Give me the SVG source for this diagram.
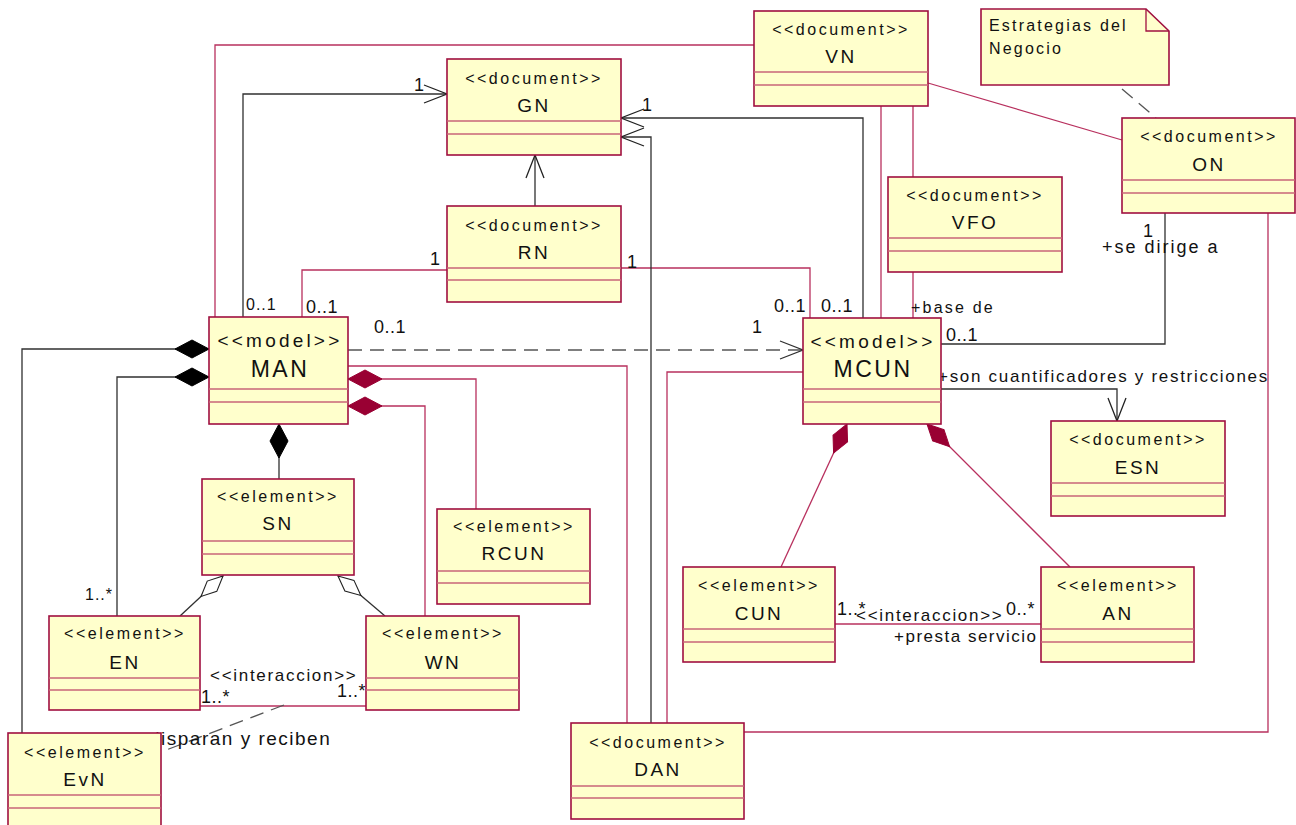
<svg xmlns="http://www.w3.org/2000/svg" width="1296" height="825" viewBox="0 0 1296 825">
<style>
.box{fill:#FFFFCC;stroke:#A01040;stroke-width:1.6}
.dv{stroke:#C86478;stroke-width:1.4}
.st{font-family:"Liberation Sans",Arial,sans-serif;font-size:16px;letter-spacing:2.5px;text-anchor:middle;fill:#111}
.nm{font-family:"Liberation Sans",Arial,sans-serif;font-size:19px;letter-spacing:2.5px;text-anchor:middle;fill:#111}
.st2{font-family:"Liberation Sans",Arial,sans-serif;font-size:19px;letter-spacing:3.2px;text-anchor:middle;fill:#111}
.nm2{font-family:"Liberation Sans",Arial,sans-serif;font-size:23px;letter-spacing:2.5px;text-anchor:middle;fill:#111}
.pk{fill:none;stroke:#B8305E;stroke-width:1.3}
.bk{fill:none;stroke:#303030;stroke-width:1.3}
.dash{fill:none;stroke:#555;stroke-width:1.3;stroke-dasharray:14 8}
.lb{font-family:"Liberation Sans",Arial,sans-serif;font-size:18px;letter-spacing:0.5px;fill:#111}
.ls{font-family:"Liberation Sans",Arial,sans-serif;font-size:16px;letter-spacing:1px;fill:#111}
.lr{font-family:"Liberation Sans",Arial,sans-serif;font-size:17px;letter-spacing:1.7px;fill:#111}
.nt{font-family:"Liberation Sans",Arial,sans-serif;font-size:16px;letter-spacing:2.2px;fill:#111}
</style>
<defs>
<marker id="arr" markerUnits="userSpaceOnUse" markerWidth="30" markerHeight="24" refX="23" refY="9" orient="auto" overflow="visible">
<path d="M0,0 L23,9 L0,18" fill="none" stroke="#222" stroke-width="1.3"/>
</marker>
<marker id="dBlack" markerUnits="userSpaceOnUse" markerWidth="40" markerHeight="24" refX="0" refY="9" orient="auto" overflow="visible">
<path d="M0,9 L17,0 L34,9 L17,18 Z" fill="#000" stroke="#000" stroke-width="1"/>
</marker>
<marker id="dRed" markerUnits="userSpaceOnUse" markerWidth="40" markerHeight="24" refX="0" refY="9" orient="auto" overflow="visible">
<path d="M0,9 L17,0 L34,9 L17,18 Z" fill="#990033" stroke="#990033" stroke-width="1"/>
</marker>
<marker id="dRed2" markerUnits="userSpaceOnUse" markerWidth="40" markerHeight="24" refX="0" refY="8" orient="auto" overflow="visible">
<path d="M0,8 L16,0 L32,8 L16,16 Z" fill="#990033" stroke="#990033" stroke-width="1"/>
</marker>
<marker id="dHollow" markerUnits="userSpaceOnUse" markerWidth="40" markerHeight="24" refX="0" refY="7" orient="auto" overflow="visible">
<path d="M0,7 L15,0 L30,7 L15,14 Z" fill="#fff" stroke="#222" stroke-width="1.1"/>
</marker>
</defs>
<rect width="1296" height="825" fill="#fff"/>

<g id="connectors">
<!-- MAN -> GN -->
<path class="bk" d="M243,317 V94 H447" marker-end="url(#arr)"/>
<!-- MAN - VN -->
<path class="pk" d="M215,317 V45 H754"/>
<!-- RN - MAN -->
<path class="pk" d="M447,270 H302 V317"/>
<!-- RN -> GN -->
<path class="bk" d="M535,206 V155" marker-end="url(#arr)"/>
<!-- RN - MCUN -->
<path class="pk" d="M621,268 H810 V318"/>
<!-- MCUN -> GN -->
<path class="bk" d="M863,318 V118 H621" marker-end="url(#arr)"/>
<!-- DAN -> GN -->
<path class="bk" d="M651,723 V137 H621" marker-end="url(#arr)"/>
<!-- MAN -> MCUN dependency -->
<path class="dash" d="M348,350 H803"/>
<path class="bk" d="M780,341 L803,350 L780,359" stroke="#222"/>
<!-- MAN - DAN -->
<path class="pk" d="M348,366 H627 V723"/>
<!-- MCUN - DAN -->
<path class="pk" d="M803,372 H667 V723"/>
<!-- MAN composition RCUN -->
<path class="pk" d="M348,379 H476 V509" marker-start="url(#dRed)"/>
<!-- MAN composition WN -->
<path class="pk" d="M348,406 H425 V616" marker-start="url(#dRed)"/>
<!-- MAN composition EvN -->
<path class="bk" d="M209,349 H22 V733" marker-start="url(#dBlack)"/>
<!-- MAN composition EN -->
<path class="bk" d="M209,377 H117 V616" marker-start="url(#dBlack)"/>
<!-- MAN composition SN -->
<path class="bk" d="M279,424 V479" marker-start="url(#dBlack)"/>
<!-- SN aggregation EN / WN -->
<path class="bk" d="M223,576 L180,616" marker-start="url(#dHollow)"/>
<path class="bk" d="M338,576 L385,616" marker-start="url(#dHollow)"/>
<!-- EN - WN -->
<path class="pk" d="M200,706 H366"/>
<!-- association class link to EvN -->
<path class="dash" d="M284,705 L161,752"/>
<!-- VN - ON -->
<path class="pk" d="M928,83 L1122,140"/>
<!-- VN - MCUN -->
<path class="pk" d="M881,106 V318"/>
<!-- VN - VFO -->
<path class="pk" d="M913,106 V177"/>
<!-- VFO - MCUN -->
<path class="pk" d="M913,272 V318"/>
<!-- ON - MCUN -->
<path class="bk" d="M1165,213 V344 H941"/>
<!-- MCUN -> ESN -->
<path class="bk" d="M941,389 H1117 V421" marker-end="url(#arr)"/>
<!-- ON - DAN -->
<path class="pk" d="M1268,213 V732 H744"/>
<!-- MCUN composition CUN / AN -->
<path class="pk" d="M847,424 L781,567" marker-start="url(#dRed2)"/>
<path class="pk" d="M927,424 L1070,567" marker-start="url(#dRed2)"/>
<!-- CUN - AN -->
<path class="pk" d="M835,624 H1041"/>
<!-- Note - ON -->
<path class="dash" d="M1122,89 L1156,118" stroke-dasharray="10 8"/>

<!-- labels -->
<text class="lb" x="414" y="91">1</text>
<text class="ls" x="246" y="310">0..1</text>
<text class="lb" x="430" y="265">1</text>
<text class="lb" x="306" y="313">0..1</text>
<text class="lb" x="627" y="268">1</text>
<text class="lb" x="774" y="312">0..1</text>
<text class="lb" x="821" y="312">0..1</text>
<text class="lb" x="642" y="111">1</text>
<text class="lb" x="374" y="333">0..1</text>
<text class="lb" x="752" y="333">1</text>
<text class="ls" x="85" y="600">1..*</text>
<text class="lr" x="210" y="681">&lt;&lt;interaccion&gt;&gt;</text>
<text class="lb" x="201" y="703">1..*</text>
<text class="lb" x="337" y="697">1..*</text>
<text class="lb" x="149" y="745" style="font-size:19px;letter-spacing:1.5px">disparan y reciben</text>
<text class="ls" x="911" y="313" style="letter-spacing:2.2px">+base de</text>
<text class="lb" x="1143" y="237">1</text>
<text class="lb" x="1102" y="253" style="letter-spacing:2px">+se dirige a</text>
<text class="lb" x="946" y="341">0..1</text>
<text class="lr" x="938" y="382">+son cuantificadores y restricciones</text>
<text class="lb" x="837" y="615">1..*</text>
<text class="lr" x="856" y="621">&lt;&lt;interaccion&gt;&gt;</text>
<text class="lb" x="1006" y="615">0..*</text>
<text class="lr" x="894" y="642" style="letter-spacing:1.5px">+presta servicio</text>
</g>

<g id="VN">
<rect class="box" x="754" y="11" width="174" height="95"/>
<line class="dv" x1="754" y1="72" x2="928" y2="72"/><line class="dv" x1="754" y1="85" x2="928" y2="85"/>
<text class="st" x="841" y="35">&lt;&lt;document&gt;&gt;</text>
<text class="nm" x="841" y="63">VN</text>
</g>
<g id="GN">
<rect class="box" x="447" y="59" width="174" height="96"/>
<line class="dv" x1="447" y1="121" x2="621" y2="121"/><line class="dv" x1="447" y1="134" x2="621" y2="134"/>
<text class="st" x="534" y="84">&lt;&lt;document&gt;&gt;</text>
<text class="nm" x="534" y="112">GN</text>
</g>
<g id="RN">
<rect class="box" x="447" y="206" width="174" height="96"/>
<line class="dv" x1="447" y1="268" x2="621" y2="268"/><line class="dv" x1="447" y1="280" x2="621" y2="280"/>
<text class="st" x="534" y="231">&lt;&lt;document&gt;&gt;</text>
<text class="nm" x="534" y="259">RN</text>
</g>
<g id="VFO">
<rect class="box" x="888" y="177" width="174" height="95"/>
<line class="dv" x1="888" y1="238" x2="1062" y2="238"/><line class="dv" x1="888" y1="251" x2="1062" y2="251"/>
<text class="st" x="975" y="201">&lt;&lt;document&gt;&gt;</text>
<text class="nm" x="975" y="229">VFO</text>
</g>
<g id="ON">
<rect class="box" x="1122" y="118" width="173" height="95"/>
<line class="dv" x1="1122" y1="180" x2="1295" y2="180"/><line class="dv" x1="1122" y1="193" x2="1295" y2="193"/>
<text class="st" x="1209" y="142">&lt;&lt;document&gt;&gt;</text>
<text class="nm" x="1209" y="171">ON</text>
</g>
<g id="Nota">
<path d="M981,9 H1146 L1169,31 V85 H981 Z" fill="#FFFFCC" stroke="#A01040" stroke-width="1.6"/>
<path d="M1146,9 V31 H1169" fill="none" stroke="#A01040" stroke-width="1.3"/>
<text class="nt" x="989" y="31">Estrategias del</text>
<text class="nt" x="989" y="54">Negocio</text>
</g>
<g id="MAN">
<rect class="box" x="209" y="317" width="139" height="107"/>
<line class="dv" x1="209" y1="389" x2="348" y2="389"/><line class="dv" x1="209" y1="402" x2="348" y2="402"/>
<text class="st2" x="280" y="347">&lt;&lt;model&gt;&gt;</text>
<text class="nm2" x="280" y="377">MAN</text>
</g>
<g id="MCUN">
<rect class="box" x="803" y="318" width="138" height="106"/>
<line class="dv" x1="803" y1="389" x2="941" y2="389"/><line class="dv" x1="803" y1="402" x2="941" y2="402"/>
<text class="st2" x="873" y="348">&lt;&lt;model&gt;&gt;</text>
<text class="nm2" x="873" y="377">MCUN</text>
</g>
<g id="ESN">
<rect class="box" x="1051" y="421" width="174" height="95"/>
<line class="dv" x1="1051" y1="483" x2="1225" y2="483"/><line class="dv" x1="1051" y1="496" x2="1225" y2="496"/>
<text class="st" x="1138" y="445">&lt;&lt;document&gt;&gt;</text>
<text class="nm" x="1138" y="474">ESN</text>
</g>
<g id="SN">
<rect class="box" x="202" y="479" width="152" height="96"/>
<line class="dv" x1="202" y1="541" x2="354" y2="541"/><line class="dv" x1="202" y1="554" x2="354" y2="554"/>
<text class="st" x="278" y="502">&lt;&lt;element&gt;&gt;</text>
<text class="nm" x="278" y="530">SN</text>
</g>
<g id="RCUN">
<rect class="box" x="437" y="509" width="153" height="95"/>
<line class="dv" x1="437" y1="571" x2="590" y2="571"/><line class="dv" x1="437" y1="583" x2="590" y2="583"/>
<text class="st" x="514" y="532">&lt;&lt;element&gt;&gt;</text>
<text class="nm" x="514" y="560">RCUN</text>
</g>
<g id="EN">
<rect class="box" x="49" y="616" width="151" height="94"/>
<line class="dv" x1="49" y1="678" x2="200" y2="678"/><line class="dv" x1="49" y1="690" x2="200" y2="690"/>
<text class="st" x="125" y="639">&lt;&lt;element&gt;&gt;</text>
<text class="nm" x="125" y="669">EN</text>
</g>
<g id="WN">
<rect class="box" x="366" y="616" width="153" height="94"/>
<line class="dv" x1="366" y1="678" x2="519" y2="678"/><line class="dv" x1="366" y1="690" x2="519" y2="690"/>
<text class="st" x="443" y="639">&lt;&lt;element&gt;&gt;</text>
<text class="nm" x="443" y="669">WN</text>
</g>
<g id="CUN">
<rect class="box" x="683" y="567" width="152" height="95"/>
<line class="dv" x1="683" y1="629" x2="835" y2="629"/><line class="dv" x1="683" y1="642" x2="835" y2="642"/>
<text class="st" x="759" y="591">&lt;&lt;element&gt;&gt;</text>
<text class="nm" x="759" y="620">CUN</text>
</g>
<g id="AN">
<rect class="box" x="1041" y="567" width="153" height="95"/>
<line class="dv" x1="1041" y1="629" x2="1194" y2="629"/><line class="dv" x1="1041" y1="642" x2="1194" y2="642"/>
<text class="st" x="1118" y="591">&lt;&lt;element&gt;&gt;</text>
<text class="nm" x="1118" y="620">AN</text>
</g>
<g id="EvN">
<rect class="box" x="8" y="733" width="153" height="96"/>
<line class="dv" x1="8" y1="795" x2="161" y2="795"/><line class="dv" x1="8" y1="808" x2="161" y2="808"/>
<text class="st" x="85" y="758">&lt;&lt;element&gt;&gt;</text>
<text class="nm" x="85" y="786">EvN</text>
</g>
<g id="DAN">
<rect class="box" x="571" y="723" width="173" height="96"/>
<line class="dv" x1="571" y1="786" x2="744" y2="786"/><line class="dv" x1="571" y1="798" x2="744" y2="798"/>
<text class="st" x="658" y="748">&lt;&lt;document&gt;&gt;</text>
<text class="nm" x="658" y="776">DAN</text>
</g>
</svg>
